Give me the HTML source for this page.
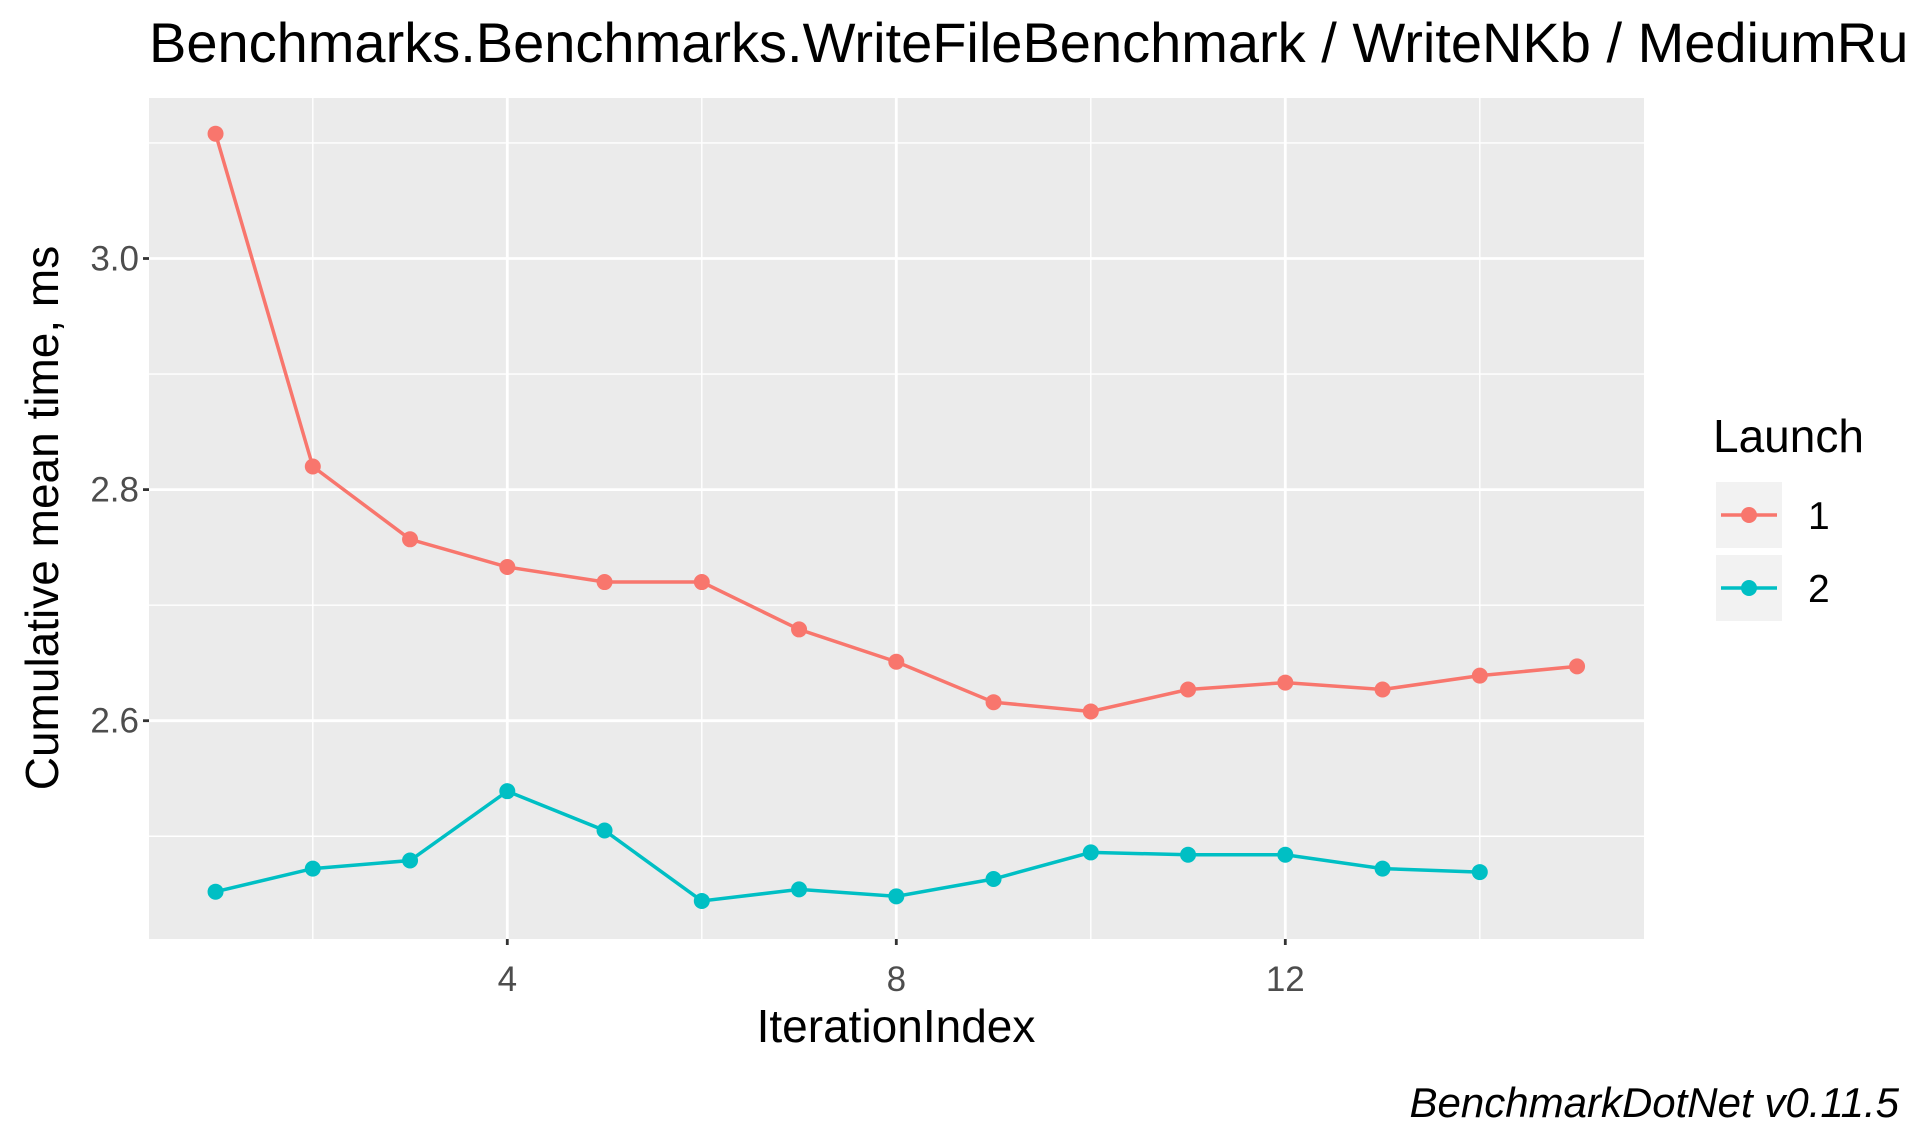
<!DOCTYPE html>
<html><head><meta charset="utf-8"><style>
html,body{margin:0;padding:0;background:#fff;overflow:hidden;}
svg{display:block;font-family:"Liberation Sans",Arial,sans-serif;}
</style></head><body>
<svg id="chart" width="1912" height="1134" viewBox="0 0 1912 1134" xmlns="http://www.w3.org/2000/svg">
<text x="149" y="62" font-size="56" fill="#000">Benchmarks.Benchmarks.WriteFileBenchmark / WriteNKb / MediumRun</text>
<rect x="149" y="98" width="1495" height="841" fill="#ebebeb"/>
<g id="grid"></g>
<g id="series"></g>
<g id="axes"></g>
<text x="896" y="1042" font-size="46" text-anchor="middle" fill="#000">IterationIndex</text>
<text transform="translate(58,518) rotate(-90)" font-size="46" text-anchor="middle" fill="#000">Cumulative mean time, ms</text>
<g>
<text x="1713" y="452" font-size="46" fill="#000">Launch</text>
<rect x="1716" y="482" width="66" height="66" fill="#f2f2f2"/>
<line x1="1721" y1="515" x2="1777" y2="515" stroke="#F8766D" stroke-width="3.5"/>
<circle cx="1749" cy="515" r="8" fill="#F8766D"/>
<text x="1808" y="529" font-size="39" fill="#000">1</text>
<rect x="1716" y="555" width="66" height="66" fill="#f2f2f2"/>
<line x1="1721" y1="588" x2="1777" y2="588" stroke="#00BFC4" stroke-width="3.5"/>
<circle cx="1749" cy="588" r="8" fill="#00BFC4"/>
<text x="1808" y="602" font-size="39" fill="#000">2</text>
</g>
<text x="1899" y="1117" font-size="42" font-style="italic" text-anchor="end" fill="#000">BenchmarkDotNet v0.11.5</text>
</svg>
<script>
const launch1 = [3.108,2.820,2.757,2.733,2.720,2.720,2.679,2.651,2.616,2.608,2.627,2.633,2.627,2.639,2.647];
const launch2 = [2.452,2.472,2.479,2.539,2.505,2.444,2.454,2.448,2.463,2.486,2.484,2.484,2.472,2.469];
const xTicks = [4,8,12];
const xMinor = [2,6,10,14];
const yTicks = [2.6,2.8,3.0];
const yMinor = [2.5,2.7,2.9,3.1];
const yTickLabels = ["2.6","2.8","3.0"];

const L=149,R=1644,T=98,B=939;
function xs(v){return 507.3+(v-4)*97.25;}
function ys(v){return 258.5-(v-3.0)*1155.5;}
const NS="http://www.w3.org/2000/svg";
function mk(tag,attrs,parent){const e=document.createElementNS(NS,tag);for(const k in attrs)e.setAttribute(k,attrs[k]);parent.appendChild(e);return e;}
const grid=document.getElementById('grid'),series=document.getElementById('series'),axes=document.getElementById('axes');
yMinor.forEach(v=>{const e=mk('line',{x1:L,x2:R,y1:ys(v),y2:ys(v),stroke:'#fff','stroke-width':1.4},grid);

});
xMinor.forEach(v=>{const e=mk('line',{x1:xs(v),x2:xs(v),y1:T,y2:B,stroke:'#fff','stroke-width':1.4},grid);

});
yTicks.forEach((v,i)=>{const e=mk('line',{x1:L,x2:R,y1:ys(v),y2:ys(v),stroke:'#fff','stroke-width':2.8},grid);


const t=mk('line',{x1:L-6,x2:L,y1:ys(v),y2:ys(v),stroke:'#333','stroke-width':2.8},axes);


const tx=mk('text',{x:L-10,y:ys(v)+12,'font-size':35,'text-anchor':'end',fill:'#4d4d4d'},axes);
tx.textContent=yTickLabels[i];

});
xTicks.forEach(v=>{const e=mk('line',{x1:xs(v),x2:xs(v),y1:T,y2:B,stroke:'#fff','stroke-width':2.8},grid);


const t=mk('line',{x1:xs(v),x2:xs(v),y1:B,y2:B+6,stroke:'#333','stroke-width':2.8},axes);


const tx=mk('text',{x:xs(v),y:991,'font-size':35,'text-anchor':'middle',fill:'#4d4d4d'},axes);
tx.textContent=String(v);

});
function draw(data,color,name){
const pts=data.map((v,i)=>xs(i+1)+','+ys(v)).join(' ');
const pl=mk('polyline',{points:pts,fill:'none',stroke:color,'stroke-width':3.5},series);


data.forEach((v,i)=>{const c=mk('circle',{cx:xs(i+1),cy:ys(v),r:8,fill:color},series);

});}
draw(launch1,'#F8766D','launch-1');
draw(launch2,'#00BFC4','launch-2');
</script>
</body></html>
